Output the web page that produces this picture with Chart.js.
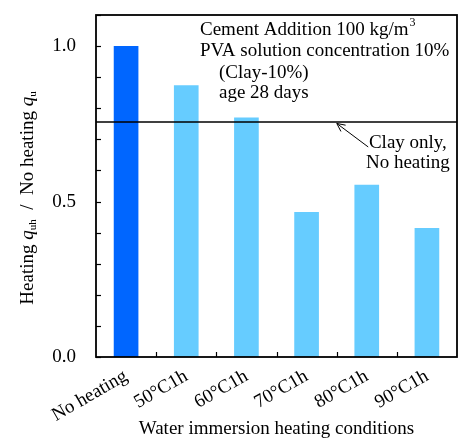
<!DOCTYPE html>
<html>
<head>
<meta charset="utf-8">
<script src="https://cdn.jsdelivr.net/npm/chart.js@4"></script>
<style>
html,body{margin:0;padding:0;background:#fff;}
#wrap{width:464px;height:441px;}
</style>
</head>
<body>
<div id="wrap"><canvas id="c" width="464" height="441"></canvas></div>
<script>
const categories = ['No heating', '50°C1h', '60°C1h', '70°C1h', '80°C1h', '90°C1h'];
const ratioValues = [1.0, 0.874, 0.770, 0.466, 0.554, 0.415];
const barColors = ['#0066FF', '#66CCFF', '#66CCFF', '#66CCFF', '#66CCFF', '#66CCFF'];
const clayOnlyReference = [0.756];
const yTickLabels = ['0.0', '0.5', '1.0'];
const noteLines = ['Cement Addition 100 kg/m', 'PVA solution concentration 10%', '(Clay-10%)', 'age 28 days'];
const refLabelLines = ['Clay only,', 'No heating'];
const xTitle = 'Water immersion heating conditions';

const FONT = "'Liberation Serif', 'Times New Roman', serif";
const FS = 19;

const decor = {
  id: 'decor',
  afterDatasetsDraw(chart) {
    const ctx = chart.ctx;
    const a = chart.chartArea;
    const xs = chart.scales.x, ys = chart.scales.y;
    ctx.save();
    ctx.strokeStyle = '#000';
    // tick marks inside
    ctx.lineWidth = 1.2;
    ys.ticks.forEach(t => {
      const y = Math.round(ys.getPixelForValue(t.value)) + 0.5;
      ctx.beginPath(); ctx.moveTo(a.left, y); ctx.lineTo(a.left + 5, y); ctx.stroke();
    });
    for (let i = 1; i < categories.length; i++) {
      const x = Math.round((xs.getPixelForValue(i - 1) + xs.getPixelForValue(i)) / 2) + 0.5;
      ctx.beginPath(); ctx.moveTo(x, a.bottom); ctx.lineTo(x, a.bottom - 5); ctx.stroke();
    }
    // reference line
    const ry = ys.getPixelForValue(clayOnlyReference[0]);
    ctx.lineWidth = 1.6;
    ctx.beginPath(); ctx.moveTo(a.left, ry); ctx.lineTo(a.right, ry); ctx.stroke();
    // frame
    ctx.lineWidth = 1.8;
    ctx.strokeRect(a.left, a.top, a.right - a.left, a.bottom - a.top);

    // notes
    ctx.fillStyle = '#000';
    ctx.font = FS + 'px ' + FONT;
    ctx.textBaseline = 'middle';
    ctx.textAlign = 'left';
    const nx = a.left + 104;
    ctx.fillText(noteLines[0], nx, a.top + 15);
    const w0 = ctx.measureText(noteLines[0]).width;
    ctx.font = '12px ' + FONT;
    ctx.fillText('3', nx + w0 + 1, a.top + 8);
    ctx.font = FS + 'px ' + FONT;
    ctx.fillText(noteLines[1], nx, a.top + 36);
    ctx.fillText(noteLines[2], nx + 19, a.top + 58);
    ctx.fillText(noteLines[3], nx + 19, a.top + 78);

    // reference label
    ctx.textAlign = 'center';
    const lx = a.left + (a.right - a.left) * 0.864;
    ctx.fillText(refLabelLines[0], lx, ry + 21);
    ctx.fillText(refLabelLines[1], lx, ry + 41);

    // arrow
    const tipX = a.left + (a.right - a.left) * 0.667, tipY = ry + 1.5;
    const tailX = a.left + (a.right - a.left) * 0.754, tailY = ry + 25;
    ctx.lineWidth = 1;
    ctx.beginPath(); ctx.moveTo(tailX, tailY); ctx.lineTo(tipX, tipY); ctx.stroke();
    const ang = Math.atan2(tipY - tailY, tipX - tailX);
    const L = 9, sp = 0.45;
    ctx.beginPath();
    ctx.moveTo(tipX - L * Math.cos(ang - sp), tipY - L * Math.sin(ang - sp));
    ctx.lineTo(tipX, tipY);
    ctx.lineTo(tipX - L * Math.cos(ang + sp), tipY - L * Math.sin(ang + sp));
    ctx.stroke();

    // y title with rich text
    const parts = [
      {t: 'Heating ', f: FS + 'px ' + FONT, dy: 0},
      {t: 'q', f: 'italic ' + FS + 'px ' + FONT, dy: 0},
      {t: 'uh', f: '11px ' + FONT, dy: 5},
      {t: '  /  No heating ', f: FS + 'px ' + FONT, dy: 0},
      {t: 'q', f: 'italic ' + FS + 'px ' + FONT, dy: 0},
      {t: 'u', f: '11px ' + FONT, dy: 5}
    ];
    let total = 0;
    parts.forEach(p => { ctx.font = p.f; p.w = ctx.measureText(p.t).width; total += p.w; });
    ctx.translate(28, 198);
    ctx.rotate(-Math.PI / 2);
    ctx.textAlign = 'left';
    let x = -total / 2;
    parts.forEach(p => { ctx.font = p.f; ctx.fillText(p.t, x, p.dy); x += p.w; });
    ctx.restore();
  }
};

new Chart(document.getElementById('c'), {
  type: 'bar',
  data: {
    labels: categories,
    datasets: [{
      data: ratioValues,
      backgroundColor: barColors,
      borderWidth: 0,
      barPercentage: 0.41,
      categoryPercentage: 1.0
    }]
  },
  options: {
    responsive: false,
    animation: false,
    devicePixelRatio: 1,
    layout: {padding: {left: 0, right: 7, top: 15, bottom: 0}},
    plugins: {legend: {display: false}, tooltip: {enabled: false}},
    scales: {
      x: {
        grid: {display: false, drawTicks: false},
        border: {display: false},
        ticks: {
          color: '#000', font: {family: FONT, size: FS},
          minRotation: 30, maxRotation: 30, padding: 8, autoSkip: false
        },
        title: {display: true, text: xTitle, color: '#000', font: {family: FONT, size: FS}, padding: {top: 4, bottom: 1}},
        afterFit(s) { s.height = 84; s.paddingLeft = 0; s.paddingRight = 0; }
      },
      y: {
        min: 0, max: 1.1,
        grid: {display: false, drawTicks: false},
        border: {display: false},
        ticks: {
          stepSize: 0.1, color: '#000', font: {family: FONT, size: FS}, padding: 20,
          callback(v) {
            const s = v.toFixed(1);
            return yTickLabels.includes(s) ? s : '';
          }
        },
        afterFit(s) { s.width = 96; s.paddingTop = 0; s.paddingBottom = 0; }
      }
    }
  },
  plugins: [decor]
});
</script>
</body>
</html>
